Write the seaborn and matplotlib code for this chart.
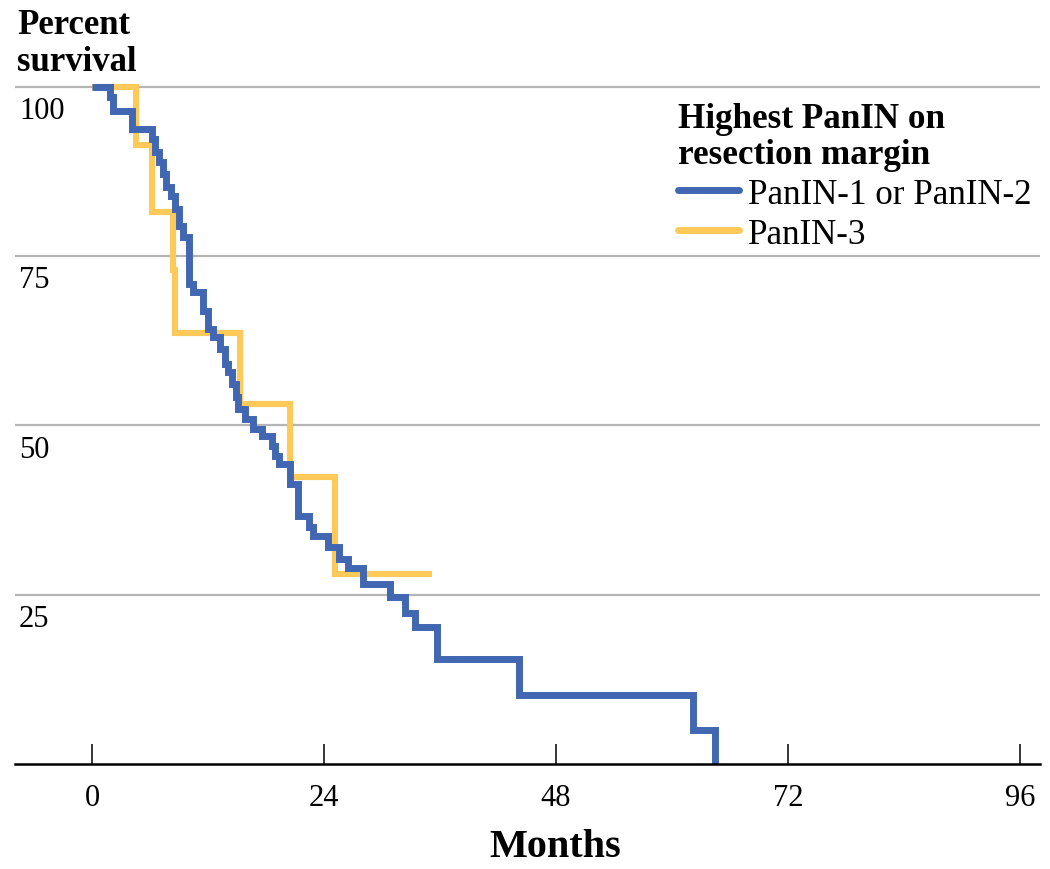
import pandas as pd
import seaborn as sns
import matplotlib.pyplot as plt
from matplotlib.lines import Line2D

# Kaplan-Meier steps (months, percent surviving after the step)
low_months = [0, 1.9, 2.2, 4.1, 6.2, 6.5, 6.9, 7.3, 7.7, 8.2, 8.6, 9.0, 9.4, 10.0,
              10.5, 11.5, 12.0, 12.5, 13.2, 13.8, 14.1, 14.5, 14.9, 15.1, 15.8,
              16.7, 17.6, 18.6, 18.9, 19.3, 20.5, 21.3, 22.5, 22.9, 24.4, 25.6,
              26.5, 28.0, 30.8, 32.4, 33.4, 35.7, 44.2, 62.2, 64.5]
low_surv = [100, 98.5, 96.5, 93.8, 92.3, 90.4, 88.9, 87.2, 85.2, 83.9, 82.0, 79.5, 77.8, 70.9,
            69.7, 66.9, 64.3, 63.1, 61.3, 59.1, 57.9, 56.1, 54.2, 52.4, 51.0,
            49.5, 48.5, 47.0, 45.5, 44.3, 41.4, 36.6, 35.0, 33.7, 32.0, 30.3,
            28.9, 26.6, 24.7, 22.3, 20.2, 15.5, 10.2, 5.0, 0]

high_months = [0, 4.5, 6.2, 8.4, 8.6, 15.3, 20.5, 25.1, 35.2]
high_surv = [100, 91.4, 81.6, 73.0, 63.6, 53.2, 42.4, 28.1, 28.1]

group_names = ["PanIN-1 or PanIN-2", "PanIN-3"]
group_colors = ["#4167B2", "#FDCA5A"]
x_ticks = [0, 24, 48, 72, 96]
y_ticks = [25, 50, 75, 100]

low = pd.DataFrame({"months": low_months, "surv": low_surv})
high = pd.DataFrame({"months": high_months, "surv": high_surv})

sns.set_theme(style="white")
plt.rcParams["font.family"] = ["Liberation Serif", "DejaVu Serif"]
plt.rcParams["text.color"] = "black"
plt.rcParams["xtick.color"] = "black"
plt.rcParams["ytick.color"] = "black"

fig = plt.figure(figsize=(10.5, 8.7), dpi=100)
ax = fig.add_axes([15 / 1050, 105 / 870, 1025 / 1050, (765 - 81.2) / 870])

# yellow first so the blue line sits on top where they cross
step_kw = dict(drawstyle="steps-post", solid_joinstyle="miter", solid_capstyle="butt")
sns.lineplot(data=high, x="months", y="surv", ax=ax, color=group_colors[1],
             linewidth=4.4, estimator=None, **step_kw)
sns.lineplot(data=low, x="months", y="surv", ax=ax, color=group_colors[0],
             linewidth=5.0, estimator=None, **step_kw)

ax.set_xlim(-7.97, 98.1)
ax.set_ylim(0, 101)
ax.set_xticks(x_ticks)
ax.set_xticklabels([str(t) for t in x_ticks], fontsize=22)
ax.set_yticks(y_ticks)
ax.tick_params(axis="y", length=0, labelleft=False)
ax.tick_params(axis="x", bottom=True, direction="in", length=14.5, width=1.1,
               color="black", labelcolor="black", pad=14)
ax.yaxis.grid(True, color="#B4B4B4", linewidth=1.6)
ax.xaxis.grid(False)
ax.set_xlabel("")
ax.set_ylabel("")
for side in ["top", "right", "left"]:
    ax.spines[side].set_visible(False)
ax.spines["bottom"].set_color("black")
ax.spines["bottom"].set_linewidth(1.8)

# y labels sit just under their gridline at the left edge
for v in y_ticks:
    ax.text(0.004, v - 3.5, str(v), transform=ax.get_yaxis_transform(),
            ha="left", va="center", fontsize=22, color="black")

fig.text(17 / 1050, 1 - 9 / 870, "Percent\nsurvival", ha="left", va="top",
         fontsize=25, fontweight="bold", linespacing=1.15, color="black")
fig.text(555 / 1050, 22 / 870, "Months", ha="center", va="center",
         fontsize=29, fontweight="bold", color="black")

handles = [Line2D([], [], color=c, linewidth=5) for c in group_colors]
leg = ax.legend(handles, group_names, title="Highest PanIN on\nresection margin",
                loc="upper left", bbox_to_anchor=(678 / 1050, 1 - 103 / 870),
                bbox_transform=fig.transFigure, frameon=False, fontsize=25.2,
                title_fontproperties={"weight": "bold", "size": 25.3},
                alignment="left", borderpad=0, borderaxespad=0,
                handlelength=1.75, handletextpad=0.25, labelspacing=0.2)
leg.get_title().set_linespacing(1.1)
for t in leg.get_texts():
    t.set_color("black")
leg.get_title().set_color("black")

fig.savefig("out.png", dpi=100)
